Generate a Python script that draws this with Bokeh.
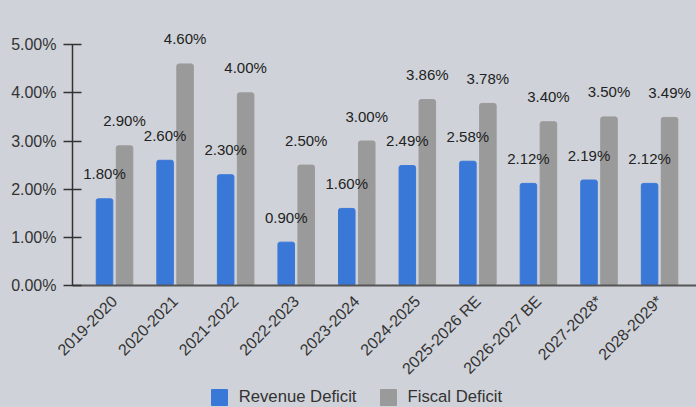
import math
from bokeh.plotting import figure
from bokeh.layouts import column
from bokeh.core.properties import value
from bokeh.models import (ColumnDataSource, Range1d, FixedTicker, PrintfTickFormatter,
                          LabelSet, Legend, LegendItem)
from bokeh.embed import file_html
from bokeh.resources import INLINE

categories = ["2019-2020", "2020-2021", "2021-2022", "2022-2023", "2023-2024",
              "2024-2025", "2025-2026 RE", "2026-2027 BE", "2027-2028*", "2028-2029*"]
revenue = [1.80, 2.60, 2.30, 0.90, 1.60, 2.49, 2.58, 2.12, 2.19, 2.12]
fiscal = [2.90, 4.60, 4.00, 2.50, 3.00, 3.86, 3.78, 3.40, 3.50, 3.49]
y_ticks = [0, 1, 2, 3, 4, 5]
series_names = ["Revenue Deficit", "Fiscal Deficit"]

BG = "#cfd2d8"
BLUE = "#3a78d8"
GRAY = "#9a9a9a"
FONT = "Liberation Sans"

idx = list(range(len(categories)))
off = 0.165
src_r = ColumnDataSource(dict(x=[i - off for i in idx], y=revenue,
                              t=["%.2f%%" % v for v in revenue]))
src_f = ColumnDataSource(dict(x=[i + off for i in idx], y=fiscal,
                              t=["%.2f%%" % v for v in fiscal]))

p = figure(width=696, height=386, output_backend="svg", toolbar_location=None,
           x_range=Range1d(-0.694, 9.61), y_range=Range1d(0, 5.544),
           min_border_left=72, min_border_right=0, min_border_top=18,
           min_border_bottom=98)
p.background_fill_color = BG
p.border_fill_color = BG
p.outline_line_color = None
p.grid.visible = False

p.vbar(x="x", top="y", width=0.273, source=src_r, color=BLUE, border_radius=2)
p.vbar(x="x", top="y", width=0.273, source=src_f, color=GRAY, border_radius=2)

for src in (src_r, src_f):
    lab = LabelSet(x="x", y="y", text="t", source=src, y_offset=25,
                   text_align="center", text_baseline="middle",
                   text_font=value(FONT), text_font_size="15px", text_color="#222222")
    p.add_layout(lab)

# y axis
p.yaxis.ticker = FixedTicker(ticks=y_ticks)
p.yaxis.bounds = (0, 5)
p.yaxis.formatter = PrintfTickFormatter(format="%.2f%%")
p.yaxis.major_tick_in = 9
p.yaxis.major_tick_out = 9
p.yaxis.minor_tick_line_color = None
p.yaxis.axis_line_color = "#333333"
p.yaxis.axis_line_width = 1.5
p.yaxis.major_tick_line_color = "#333333"
p.yaxis.major_tick_line_width = 1.5
p.yaxis.major_label_text_font = FONT
p.yaxis.major_label_text_font_size = "16px"
p.yaxis.major_label_text_color = "#333333"
p.yaxis.major_label_standoff = 7

# x axis
p.xaxis.ticker = FixedTicker(ticks=idx)
p.xaxis.major_label_overrides = {i: c for i, c in zip(idx, categories)}
p.xaxis.major_label_orientation = math.pi / 4
p.xaxis.major_tick_in = 0
p.xaxis.major_tick_out = 0
p.xaxis.minor_tick_line_color = None
p.xaxis.axis_line_color = "#555555"
p.xaxis.axis_line_width = 2
p.xaxis.major_label_text_font = FONT
p.xaxis.major_label_text_font_size = "16px"
p.xaxis.major_label_text_color = "#333333"
p.xaxis.major_label_standoff = 13

# legend strip (frame is aligned with the main plot's frame, starting at x=72)
q = figure(width=696, height=21, output_backend="svg", toolbar_location=None,
           x_range=Range1d(0, 1), y_range=Range1d(0, 1), min_border=0)
q.background_fill_color = BG
q.border_fill_color = BG
q.outline_line_color = None
q.axis.visible = False
q.grid.visible = False
# off-range dummies, only to give the legend its swatches
lr1 = q.vbar(x=[5], top=[5], width=0.1, color=BLUE)
lr2 = q.vbar(x=[5], top=[5], width=0.1, color=GRAY)
legend = Legend(items=[LegendItem(label=series_names[0], renderers=[lr1]),
                       LegendItem(label=series_names[1], renderers=[lr2])],
                location=(136.7, 0), orientation="horizontal",
                padding=0, margin=0, spacing=21, label_standoff=10,
                glyph_width=20, glyph_height=20, label_height=20,
                label_text_font=FONT, label_text_font_size="16.7px",
                label_text_color="#333333",
                background_fill_alpha=0, border_line_color=None)
q.add_layout(legend)

layout = column(p, q, spacing=0)
html = file_html(layout, INLINE)
html = html.replace("<head>", "<head><style>html,body{margin:0;padding:0;background:%s;}</style>" % BG, 1)
open("out.html", "w").write(html)
